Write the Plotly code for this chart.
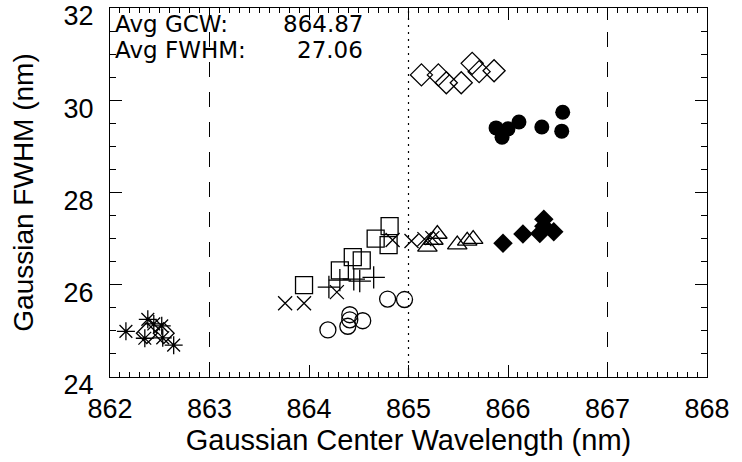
import plotly.graph_objects as go

# ---- data ----
ast_x = [862.16, 862.38, 862.44, 862.52, 862.35, 862.53, 862.64]
ast_y = [24.99, 25.25, 25.15, 25.11, 24.84, 24.85, 24.69]

smdia_x = [862.37, 862.54]
smdia_y = [24.95, 24.95]

xs_x = [863.76, 863.95, 864.28, 864.84, 865.03, 865.16, 865.24]
xs_y = [25.60, 25.60, 25.84, 26.97, 26.95, 26.99, 27.01]

plus_x = [864.20, 864.31, 864.45, 864.51, 864.65]
plus_y = [25.95, 26.10, 26.12, 26.08, 26.16]

sq_x = [863.95, 864.31, 864.44, 864.53, 864.67, 864.81, 864.80]
sq_y = [25.99, 26.31, 26.60, 26.53, 27.00, 27.27, 26.86]

circ_x = [864.19, 864.39, 864.41, 864.41, 864.54, 864.79, 864.96]
circ_y = [25.02, 25.10, 25.35, 25.24, 25.22, 25.69, 25.68]

tri_x = [865.19, 865.25, 865.29, 865.49, 865.59, 865.65]
tri_y = [26.82, 26.97, 27.10, 26.87, 26.95, 26.99]

odia_x = [865.13, 865.30, 865.38, 865.53, 865.64, 865.71, 865.86]
odia_y = [30.55, 30.55, 30.38, 30.38, 30.80, 30.62, 30.64]

fcirc_x = [865.88, 865.94, 866.00, 866.11, 866.34, 866.55, 866.54]
fcirc_y = [29.40, 29.20, 29.38, 29.53, 29.42, 29.74, 29.33]

fdia_x = [865.95, 866.15, 866.32, 866.36, 866.36, 866.46]
fdia_y = [26.90, 27.10, 27.11, 27.42, 27.27, 27.15]

avg_gcw = "864.87"
avg_fwhm = "27.06"
x_ticks = [862, 863, 864, 865, 866, 867, 868]
y_ticks = [24, 26, 28, 30, 32]
dash_lines = [863, 867]
dot_lines = [865]

FONT = "Liberation Sans"
AFONT = "DejaVu Sans"

fig = go.Figure()

def add(x, y, symbol, size, lw=1.3):
    fig.add_trace(go.Scatter(
        x=x, y=y, mode="markers", showlegend=False,
        marker=dict(symbol=symbol, size=size, color="black",
                    line=dict(color="black", width=lw))))

for xv in dash_lines:
    fig.add_shape(type="line", x0=xv, x1=xv, y0=0, y1=1, xref="x", yref="paper",
                  line=dict(color="black", width=1, dash="15px,15px"), layer="below")
for xv in dot_lines:
    fig.add_shape(type="line", x0=xv, x1=xv, y0=0, y1=1, xref="x", yref="paper",
                  line=dict(color="black", width=1.2, dash="2px,5px"), layer="below")

add(smdia_x, smdia_y, "diamond-open", 16)
add(ast_x, ast_y, "asterisk-open", 15)
add(xs_x, xs_y, "x-thin-open", 14)
add(plus_x, plus_y, "cross-thin-open", 16)
add(sq_x, sq_y, "square-open", 17)
add(circ_x, circ_y, "circle-open", 16)
add(tri_x, tri_y, "triangle-up-open", 17)
add(odia_x, odia_y, "diamond-open", 17)
add(fcirc_x, fcirc_y, "circle", 15, lw=0)
add(fdia_x, fdia_y, "diamond", 15, lw=0)

axis_common = dict(showline=True, linecolor="black", linewidth=1, mirror="ticks",
                   ticks="inside", tickcolor="black", showgrid=False, zeroline=False,
                   ticklabeloverflow="allow", automargin=False,
                   tickfont=dict(family=FONT, size=27, color="black"))

fig.update_xaxes(range=[862, 868], tickvals=x_ticks, ticktext=[str(v) for v in x_ticks],
                 ticklen=12, ticklabelstandoff=8,
                 minor=dict(ticks="inside", dtick=0.1, ticklen=5, tickcolor="black", showgrid=False),
                 title=dict(text="Gaussian Center Wavelength (nm)", standoff=4,
                            font=dict(family=FONT, size=29, color="black")),
                 **axis_common)
fig.update_yaxes(range=[24, 32], tickvals=y_ticks, ticktext=[str(v) for v in y_ticks],
                 ticklen=12, ticklabelstandoff=10, ticklabelshift=8,
                 minor=dict(ticks="inside", dtick=0.5, ticklen=6, tickcolor="black", showgrid=False),
                 title=dict(text="Gaussian FWHM (nm)", standoff=21,
                            font=dict(family=FONT, size=28, color="black")),
                 **axis_common)

tf = dict(family=AFONT, size=23, color="black")
for i, (lab, val) in enumerate([("Avg GCW:", avg_gcw), ("Avg FWHM:", avg_fwhm)]):
    yy = 0.9973 - i * 0.0705
    fig.add_annotation(x=0.005, y=yy, xref="paper", yref="paper", text=lab,
                       showarrow=False, xanchor="left", yanchor="top", font=tf)
    fig.add_annotation(x=0.427, y=yy, xref="paper", yref="paper", text=val,
                       showarrow=False, xanchor="right", yanchor="top", font=tf)

fig.update_layout(width=742, height=462, margin=dict(l=110, r=35, t=8, b=85),
                  plot_bgcolor="white", paper_bgcolor="white")

fig.write_html("out.html")
